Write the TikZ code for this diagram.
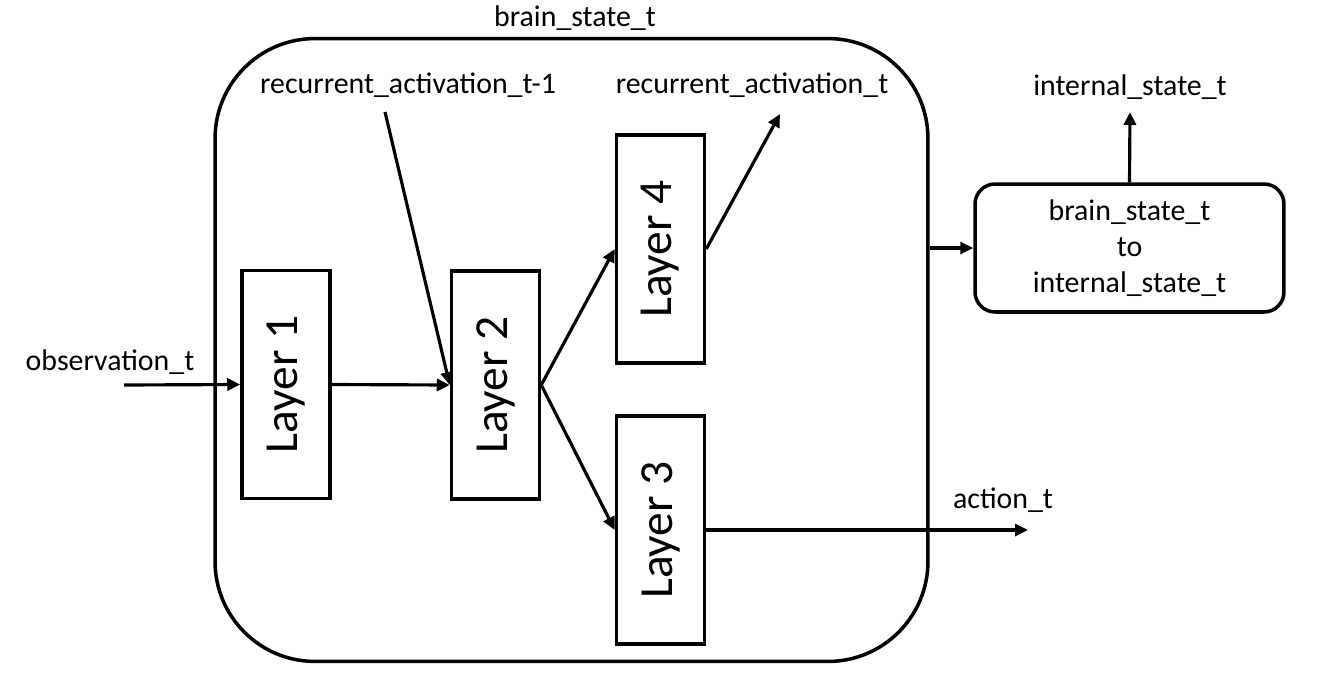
\documentclass[tikz,border=0pt]{standalone}
\usepackage{fontspec}
\setmainfont{Carlito}
\usepackage{tikz}
\usetikzlibrary{arrows.meta}

\begin{document}
\begin{tikzpicture}[
    x=0.02cm, y=-0.02cm,
    layer/.style={rectangle, draw, line width=2pt, minimum width=1.76cm, minimum height=4.56cm, inner sep=0pt, font=\fontsize{27}{32}\selectfont},
    lbl/.style={inner sep=0pt, font=\fontsize{17}{20.5}\selectfont},
    arr/.style={-{Triangle[length=2.6mm, width=2.4mm]}, line width=1.8pt}
]
    \useasboundingbox (0,0) rectangle (1325,683);

    \node (brain) [draw, line width=2pt, rounded corners=2cm, minimum width=14.26cm, minimum height=12.46cm] at (571.5,350) {};
    \node (bst) [lbl] at (575,18) {brain\_state\_t};

    \node (l1) [layer] at (286,384.5) {\rotatebox{90}{Layer 1}};
    \node (l2) [layer] at (495.5,385) {\rotatebox{90}{Layer 2}};
    \node (l4) [layer] at (660.5,249) {\rotatebox{90}{Layer 4}};
    \node (l3) [layer] at (660.5,530) {\rotatebox{90}{Layer 3}};

    \node (obs) [lbl] at (110,362) {observation\_t};
    \node (recprev) [lbl] at (408,85) {recurrent\_activation\_t-1};
    \node (recnow) [lbl] at (752,85) {recurrent\_activation\_t};
    \node (act) [lbl] at (1003,500) {action\_t};
    \node (int) [lbl] at (1130,87) {internal\_state\_t};
    \node (conv) [draw, line width=2pt, rounded corners=0.4cm, minimum width=6.18cm, minimum height=2.56cm, align=center, lbl] at (1129.5,248) {brain\_state\_t\\to\\internal\_state\_t};

    \coordinate (obsin) at (124,385);
    \coordinate (recin) at (385,112);
    \coordinate (recout) at (780,114);
    \coordinate (actout) at (1028,530);
    \coordinate (intout) at (1130,112);

    \draw[arr] (obsin) -- (l1.west);
    \draw[arr] (l1.east) -- (l2.west);
    \draw[arr] (recin) -- (l2.west);
    \draw[arr] (l2.east) -- (l4.west);
    \draw[arr] (l2.east) -- (l3.west);
    \draw[arr] (l4.east) -- (recout);
    \draw[arr] (l3.east) -- (actout);
    \draw[arr] (conv.west -| brain.east) -- (conv.west);
    \draw[arr] (conv.north) -- (intout);
\end{tikzpicture}
\end{document}
